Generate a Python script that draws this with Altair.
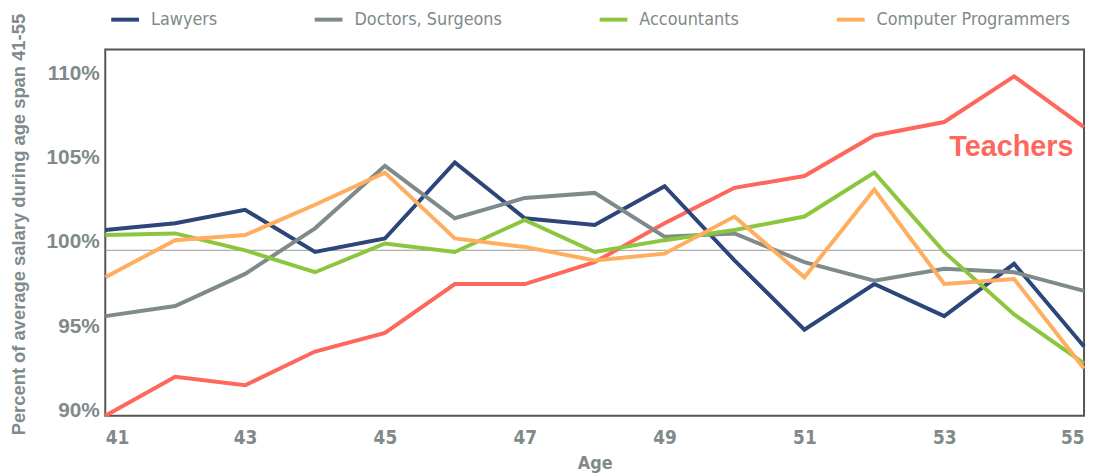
import altair as alt
import pandas as pd

ages = list(range(41, 56))
series_names = ["Lawyers", "Doctors, Surgeons", "Accountants", "Computer Programmers"]
lawyers = [100.7, 101.1, 101.9, 99.4, 100.2, 104.7, 101.4, 101.0, 103.3, 98.9, 94.8, 97.5, 95.6, 98.7, 93.8]
doctors = [95.6, 96.2, 98.1, 100.8, 104.5, 101.4, 102.6, 102.9, 100.3, 100.5, 98.8, 97.7, 98.4, 98.2, 97.1]
accountants = [100.4, 100.5, 99.5, 98.2, 99.9, 99.4, 101.3, 99.4, 100.1, 100.7, 101.5, 104.1, 99.4, 95.7, 92.8]
programmers = [97.9, 100.1, 100.4, 102.2, 104.1, 100.2, 99.7, 98.9, 99.3, 101.5, 97.9, 103.1, 97.5, 97.8, 92.5]
teachers = [89.7, 92.0, 91.5, 93.5, 94.6, 97.5, 97.5, 98.8, 101.1, 103.2, 103.9, 106.3, 107.1, 109.8, 106.8]
reference_value = [99.5]
y_ticks = [90, 95, 100, 105, 110]
x_ticks = [41, 43, 45, 47, 49, 51, 53, 55]
annotation = {"label": ["Teachers"], "age": [54.85], "value": [105.6]}

colors = ["#2c4679", "#7f8a8a", "#8cc63f", "#ffad5f"]
teacher_color = "#ff675c"
gray_text = "#7f8a8a"
narrow = "DejaVu Sans Condensed, Liberation Sans Narrow, Roboto, sans-serif"
wide = "Liberation Sans, Arial, sans-serif"

rows = []
for name, vals in zip(series_names, [lawyers, doctors, accountants, programmers]):
    for a, v in zip(ages, vals):
        rows.append({"age": a, "value": v, "series": name})
df = pd.DataFrame(rows)
tdf = pd.DataFrame({"age": ages, "value": teachers})
rdf = pd.DataFrame({"value": reference_value})
adf = pd.DataFrame(annotation)

xscale = alt.Scale(domain=[41, 55], nice=False, zero=False)
yscale = alt.Scale(domain=[89.7, 111.4], nice=False, zero=False)

xaxis = alt.Axis(values=x_ticks, title="Age", grid=False, ticks=False, domain=False,
                 labelFlush=True, labelFont=narrow, labelFontSize=19, labelFontWeight="bold",
                 labelColor=gray_text, labelPadding=13, titleFont=narrow, titleFontSize=18,
                 titleFontWeight="bold", titleColor=gray_text, titlePadding=7)
yaxis = alt.Axis(values=y_ticks, title="Percent of average salary during age span 41-55",
                 labelExpr="datum.value + '%'", grid=False, ticks=False, domain=False,
                 labelFont=wide, labelFontSize=21, labelFontWeight="bold", labelColor=gray_text,
                 labelPadding=6, titleFont=wide, titleFontSize=18.5, titleFontWeight="bold",
                 titleColor=gray_text, titleX=-77, titleY=176, titleLimit=0)

rule = alt.Chart(rdf).mark_rule(color="#999999", strokeWidth=1).encode(
    y=alt.Y("value:Q", scale=yscale, axis=yaxis))

lines = alt.Chart(df).mark_line(strokeWidth=4).encode(
    x=alt.X("age:Q", scale=xscale, axis=xaxis),
    y=alt.Y("value:Q", scale=yscale, axis=yaxis),
    color=alt.Color("series:N", scale=alt.Scale(domain=series_names, range=colors),
                    legend=alt.Legend(title=None, orient="none", direction="horizontal",
                                      legendX=4, legendY=-46, columnPadding=90,
                                      symbolType="stroke", symbolSize=784, symbolStrokeWidth=4,
                                      labelFont=narrow, labelFontSize=18, labelColor=gray_text,
                                      labelOffset=10, labelLimit=0)),
    detail="series:N")

tline = alt.Chart(tdf).mark_line(strokeWidth=4, color=teacher_color).encode(
    x=alt.X("age:Q", scale=xscale, axis=xaxis),
    y=alt.Y("value:Q", scale=yscale, axis=yaxis))

label = alt.Chart(adf).mark_text(color=teacher_color, font=wide, fontSize=29, fontWeight="bold",
                                 align="right", baseline="middle").encode(
    x=alt.X("age:Q", scale=xscale, axis=xaxis),
    y=alt.Y("value:Q", scale=yscale, axis=yaxis),
    text="label:N")

chart = alt.layer(rule, tline, lines, label).properties(
    width=986, height=369,
    background="white",
    autosize=alt.AutoSizeParams(type="none"),
    padding={"left": 98, "top": 40, "right": 5, "bottom": 58},
).configure_view(stroke="#555555", strokeWidth=2)

chart.save("out.html", embed_options={"renderer": "svg", "actions": False})
